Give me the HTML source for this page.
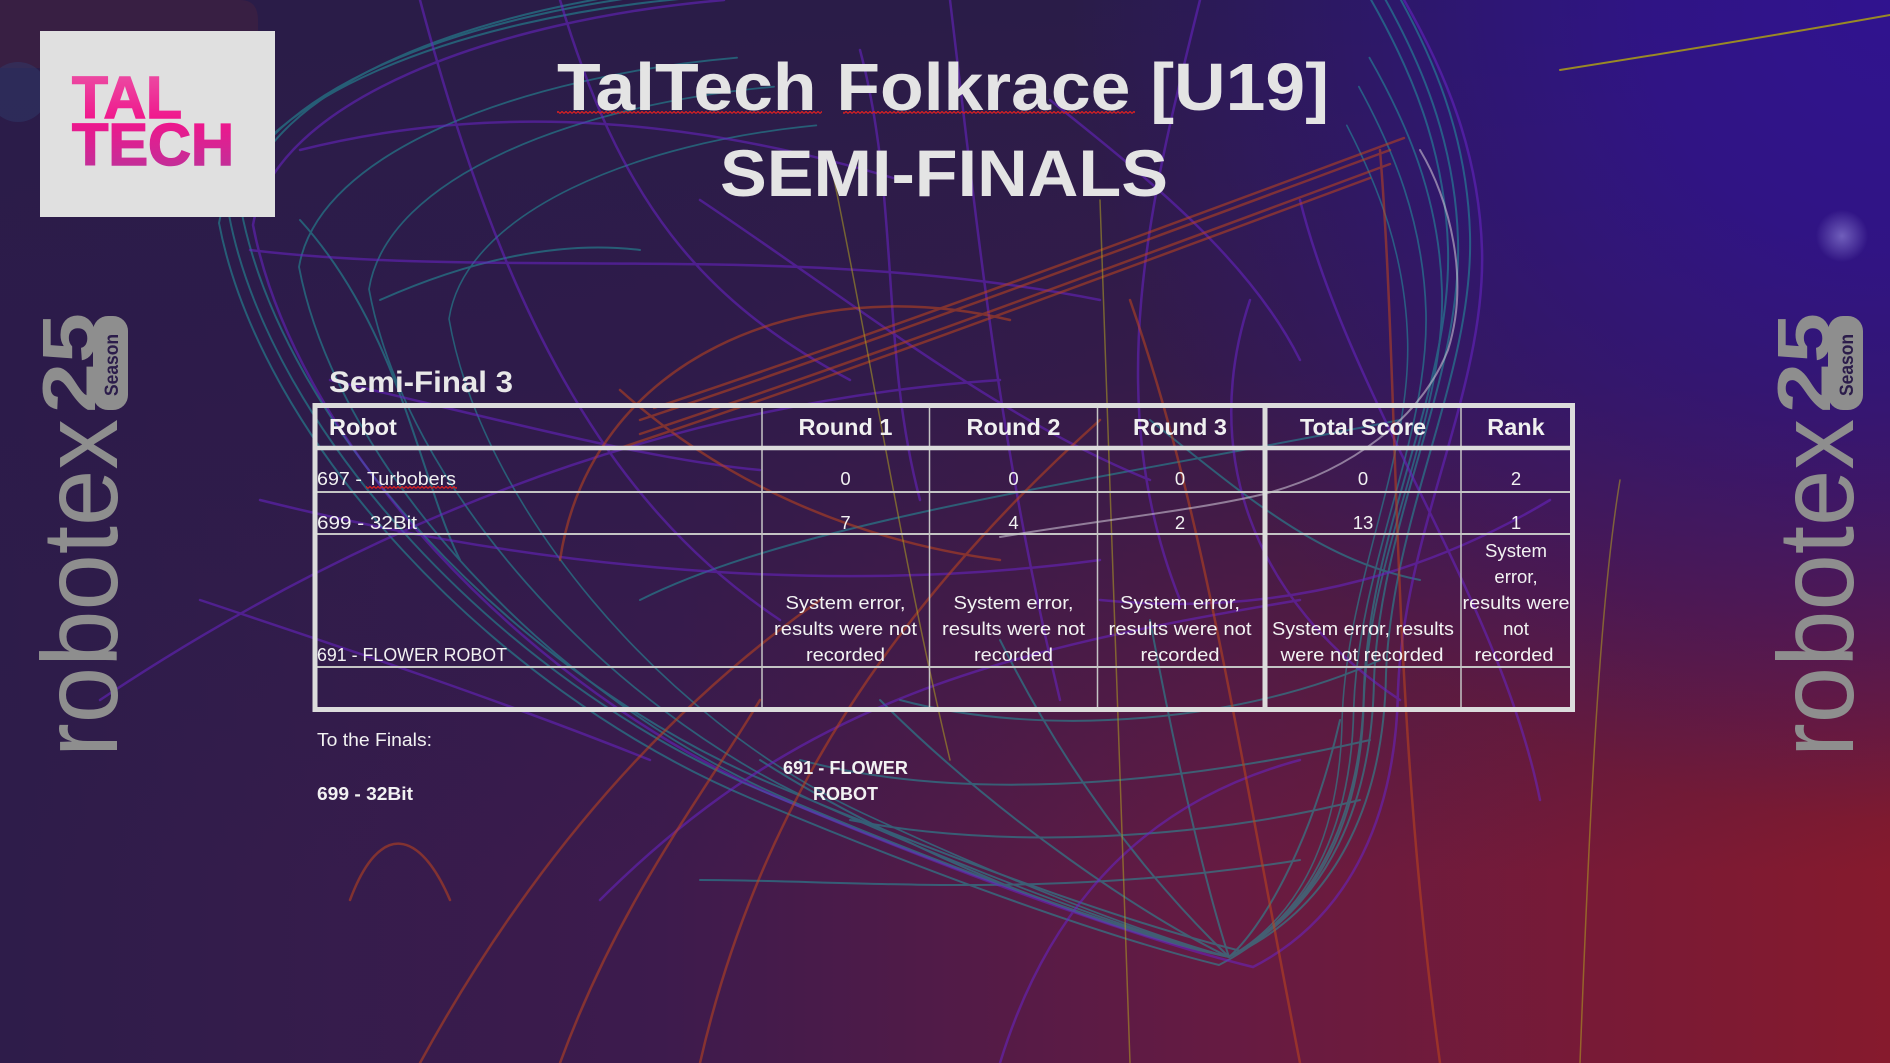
<!DOCTYPE html>
<html><head><meta charset="utf-8"><style>
html,body{margin:0;padding:0;width:1890px;height:1063px;overflow:hidden;background:#2c1c48}
svg{display:block}
text{font-family:"Liberation Sans",Arial,sans-serif}
</style></head><body>
<svg width="1890" height="1063" viewBox="0 0 1890 1063" xmlns="http://www.w3.org/2000/svg">
<defs>
<linearGradient id="bgx" x1="0" y1="0" x2="1" y2="0">
 <stop offset="0" stop-color="#2e1c4a"/>
 <stop offset="0.35" stop-color="#3d1b4d"/>
 <stop offset="0.65" stop-color="#661b42"/>
 <stop offset="1" stop-color="#861a2d"/>
</linearGradient>
<linearGradient id="bgy" x1="0" y1="0" x2="0" y2="1">
 <stop offset="0" stop-color="#2a1c48" stop-opacity="1"/>
 <stop offset="0.35" stop-color="#2c1b4a" stop-opacity="0.85"/>
 <stop offset="0.82" stop-color="#2c1b4a" stop-opacity="0"/>
</linearGradient>
<radialGradient id="blue" cx="1890" cy="0" r="820" gradientUnits="userSpaceOnUse">
 <stop offset="0" stop-color="#30138f" stop-opacity="1"/>
 <stop offset="0.3" stop-color="#30138f" stop-opacity="0.85"/>
 <stop offset="1" stop-color="#30138f" stop-opacity="0"/>
</radialGradient>
<radialGradient id="glow" cx="0.5" cy="0.5" r="0.5">
 <stop offset="0" stop-color="#9a90e0" stop-opacity="0.6"/>
 <stop offset="1" stop-color="#9a90e0" stop-opacity="0"/>
</radialGradient>
<linearGradient id="pk" x1="0" y1="75" x2="0" y2="166" gradientUnits="userSpaceOnUse">
 <stop offset="0" stop-color="#ec4aa2"/>
 <stop offset="0.5" stop-color="#f0168c"/>
 <stop offset="1" stop-color="#c42e98"/>
</linearGradient>
<pattern id="sq" width="4" height="3" patternUnits="userSpaceOnUse">
 <path d="M0 2.5 L2 0.5 L4 2.5" stroke="#e02020" stroke-width="1.2" fill="none"/>
</pattern>
</defs>

<!-- background -->
<rect x="0" y="0" width="1890" height="1063" fill="url(#bgx)"/>
<rect x="0" y="0" width="1890" height="1063" fill="url(#bgy)"/>
<rect x="0" y="0" width="1890" height="1063" fill="url(#blue)"/>
<path d="M0 0 H240 Q258 0 258 20 V60 Q258 68 240 68 H0 Z" fill="#3c2042" opacity="0.8"/>
<circle cx="18" cy="92" r="30" fill="#2f3a6a" opacity="0.5"/>
<circle cx="1842" cy="236" r="26" fill="url(#glow)"/>

<!-- face lines -->
<g fill="none" stroke-linecap="round">
 <g stroke="#22a0a4" stroke-width="2" opacity="0.5">
  <path d="M 700 -10 C 470 10 250 90 229 215 C 270 430 500 680 760 790 C 950 870 1120 930 1229 957 C 1330 905 1372 800 1374 680 C 1380 520 1462 380 1458 240 C 1455 140 1420 60 1380 -10"/>
  <path transform="translate(12,-6)" d="M 700 -10 C 470 10 250 90 229 215 C 270 430 500 680 760 790 C 950 870 1120 930 1229 957 C 1330 905 1372 800 1374 680 C 1380 520 1462 380 1458 240 C 1455 140 1420 60 1380 -10"/>
  <path transform="translate(-10,8)" d="M 700 -10 C 470 10 250 90 229 215 C 270 430 500 680 760 790 C 950 870 1120 930 1229 957 C 1330 905 1372 800 1374 680 C 1380 520 1462 380 1458 240 C 1455 140 1420 60 1380 -10"/>
  <path transform="translate(1229,957) scale(0.93) translate(-1229,-957)" d="M 700 -10 C 470 10 250 90 229 215 C 270 430 500 680 760 790 C 950 870 1120 930 1229 957 C 1330 905 1372 800 1374 680 C 1380 520 1462 380 1458 240 C 1455 140 1420 60 1380 -10"/>
  <path transform="translate(1229,957) scale(0.86,0.9) translate(-1229,-957)" d="M 700 -10 C 470 10 250 90 229 215 C 270 430 500 680 760 790 C 950 870 1120 930 1229 957 C 1330 905 1372 800 1374 680 C 1380 520 1462 380 1458 240 C 1455 140 1420 60 1380 -10"/>
  <path transform="translate(1229,957) scale(0.78,0.86) translate(-1229,-957)" d="M 700 -10 C 470 10 250 90 229 215 C 270 430 500 680 760 790 C 950 870 1120 930 1229 957 C 1330 905 1372 800 1374 680 C 1380 520 1462 380 1458 240 C 1455 140 1420 60 1380 -10"/>
  <path d="M 760 760 C 900 850 1100 930 1229 957"/>
  <path d="M 880 700 C 1000 820 1150 920 1229 957"/>
  <path d="M 1000 640 C 1080 800 1170 900 1229 957"/>
  <path d="M 1150 620 C 1180 780 1210 900 1229 957"/>
  <path d="M 1340 720 C 1310 850 1260 930 1229 957"/>
  <path d="M 800 760 C 950 800 1150 790 1370 740"/>
  <path d="M 850 820 C 1000 850 1200 840 1360 800"/>
  <path d="M 900 700 C 1050 740 1250 720 1380 660"/>
  <path d="M 640 600 C 800 520 1100 480 1400 420"/>
  <path d="M 700 880 C 850 880 1050 900 1300 860"/>
  <path d="M 300 220 C 400 330 420 480 460 560"/>
  <path d="M 380 300 C 470 260 560 240 640 250"/>
  <path d="M 1150 420 C 1250 500 1320 560 1420 580"/>
 </g>
 <g stroke="#6a24c8" stroke-width="2.5" opacity="0.55">
  <path transform="translate(24,10)" d="M 700 -10 C 470 10 250 90 229 215 C 270 430 500 680 760 790 C 950 870 1120 930 1229 957 C 1330 905 1372 800 1374 680 C 1380 520 1462 380 1458 240 C 1455 140 1420 60 1380 -10"/>
  <path d="M 250 250 C 500 280 800 240 1100 300"/>
  <path d="M 100 700 C 400 500 700 400 1000 380"/>
  <path d="M 420 0 C 500 300 600 500 780 620"/>
  <path d="M 950 0 C 980 250 1000 450 1060 700"/>
  <path d="M 1200 0 C 1150 200 1100 400 1180 600"/>
  <path d="M 260 500 C 500 560 800 600 1100 560"/>
  <path d="M 1300 200 C 1350 400 1500 600 1540 800"/>
  <path d="M 600 900 C 800 700 1000 650 1300 600"/>
  <path d="M 300 150 C 500 100 700 120 900 180"/>
  <path d="M 1000 1063 C 1050 900 1150 800 1300 760"/>
  <path d="M 1100 600 C 1300 620 1450 560 1550 500"/>
  <path d="M 560 0 C 620 200 700 300 850 380"/>
  <path d="M 700 200 C 850 300 1000 420 1150 480"/>
  <path d="M 330 380 C 500 420 650 460 760 470"/>
  <path d="M 1050 100 C 1150 180 1250 260 1300 360"/>
  <path d="M 200 600 C 350 650 500 700 650 760"/>
  <path d="M 1250 300 C 1200 450 1250 600 1400 700"/>
  <path d="M 860 50 C 900 200 880 350 920 500"/>
 </g>
 <g stroke="#c0451c" stroke-width="2.5" opacity="0.55">
  <path d="M 640 420 C 880 340 1120 250 1390 150"/>
  <path transform="translate(0,14)" d="M 640 420 C 880 340 1120 250 1390 150"/>
  <path transform="translate(14,-12)" d="M 640 420 C 880 340 1120 250 1390 150"/>
  <path transform="translate(-20,28)" d="M 640 420 C 880 340 1120 250 1390 150"/>
  <path d="M 560 560 C 590 360 800 270 1010 320"/>
  <path d="M 700 1063 C 760 800 900 600 1100 420"/>
  <path d="M 420 1063 C 520 880 650 720 820 600"/>
  <path d="M 350 900 C 380 820 420 830 450 900"/>
  <path d="M 1130 300 C 1200 500 1230 700 1300 1063"/>
  <path d="M 1380 150 C 1400 400 1390 700 1440 1063"/>
  <path d="M 560 1063 C 620 900 700 800 760 700"/>
  <path d="M 620 390 C 720 480 850 540 1000 560"/>
 </g>
 <g stroke="#b0a020" stroke-width="1.5" opacity="0.55">
  <path d="M 830 160 C 870 350 900 550 950 760"/>
  <path d="M 1580 1063 C 1590 800 1600 600 1620 480"/>
  <path d="M 1100 200 C 1110 500 1120 800 1130 1063"/>
 </g>
 <path d="M 1560 70 Q 1750 40 1890 15" stroke="#9a8a25" stroke-width="2"/>
 <path d="M 1000 537 C 1100 520 1200 510 1268 493 C 1350 470 1420 420 1448 350 C 1470 280 1450 200 1420 150" stroke="#c8c0d0" stroke-width="2" opacity="0.6"/>
</g>

<!-- TalTech logo -->
<rect x="40" y="31" width="235" height="186" fill="#e0e0e0"/>
<text x="72" y="118" font-size="59" font-weight="bold" fill="url(#pk)" stroke="url(#pk)" stroke-width="1.5" textLength="110" lengthAdjust="spacingAndGlyphs">TAL</text>
<text x="72" y="165" font-size="59" font-weight="bold" fill="url(#pk)" stroke="url(#pk)" stroke-width="1.5" textLength="162" lengthAdjust="spacingAndGlyphs">TECH</text>

<!-- Title -->
<text x="557" y="110" font-size="67" font-weight="bold" fill="#e4e4e4" textLength="772" lengthAdjust="spacingAndGlyphs">TalTech Folkrace [U19]</text>
<rect x="557" y="111" width="265" height="3" fill="url(#sq)"/>
<rect x="843" y="111" width="292" height="3" fill="url(#sq)"/>
<text x="720" y="196" font-size="66" font-weight="bold" fill="#e4e4e4" textLength="448" lengthAdjust="spacingAndGlyphs">SEMI-FINALS</text>

<!-- robotex logos -->
<g fill="#8e8e8e">
 <text transform="translate(117,757) rotate(-90)" font-size="108" textLength="338" lengthAdjust="spacingAndGlyphs">robotex</text>
 <text transform="translate(95,413) rotate(-90)" font-size="75" font-weight="bold" textLength="100" lengthAdjust="spacingAndGlyphs">25</text>
 <rect x="93" y="316" width="35" height="94" rx="15"/>
 <text transform="translate(1853,757) rotate(-90)" font-size="108" textLength="338" lengthAdjust="spacingAndGlyphs">robotex</text>
 <text transform="translate(1830,413) rotate(-90)" font-size="75" font-weight="bold" textLength="100" lengthAdjust="spacingAndGlyphs">25</text>
 <rect x="1828" y="316" width="35" height="94" rx="15"/>
</g>
<text transform="translate(118,396) rotate(-90)" font-size="19" font-weight="bold" fill="#2b1c4a" textLength="62" lengthAdjust="spacingAndGlyphs">Season</text>
<text transform="translate(1853,396) rotate(-90)" font-size="19" font-weight="bold" fill="#2b1c4a" textLength="62" lengthAdjust="spacingAndGlyphs">Season</text>

<!-- Semi-Final 3 -->
<text x="329" y="392" font-size="30" font-weight="bold" fill="#e8e8e8" textLength="184" lengthAdjust="spacingAndGlyphs">Semi-Final 3</text>

<!-- table lines -->
<g stroke="#c4c4c4" stroke-width="2" fill="none">
 <line x1="315" y1="492" x2="1572" y2="492"/>
 <line x1="315" y1="534" x2="1572" y2="534"/>
 <line x1="315" y1="667" x2="1572" y2="667"/>
 <line x1="762" y1="405" x2="762" y2="710" stroke-width="1.5"/>
 <line x1="929.5" y1="405" x2="929.5" y2="710" stroke-width="1.5"/>
 <line x1="1097.5" y1="405" x2="1097.5" y2="710" stroke-width="1.5"/>
 <line x1="1461" y1="405" x2="1461" y2="710" stroke-width="1.5"/>
</g>
<g stroke="#dcdcdc" fill="none">
 <line x1="315" y1="448" x2="1572" y2="448" stroke-width="4.5"/>
 <line x1="1265" y1="405" x2="1265" y2="710" stroke-width="5"/>
 <rect x="315" y="405.5" width="1257.5" height="304" stroke-width="5"/>
</g>

<!-- header -->
<g font-size="23.5" font-weight="bold" fill="#f0f0f0">
 <text x="329" y="435">Robot</text>
 <text x="845.5" y="435" text-anchor="middle">Round 1</text>
 <text x="1013.5" y="435" text-anchor="middle">Round 2</text>
 <text x="1180" y="435" text-anchor="middle">Round 3</text>
 <text x="1363" y="435" text-anchor="middle">Total Score</text>
 <text x="1516" y="435" text-anchor="middle">Rank</text>
</g>

<!-- body -->
<g font-size="18.5" fill="#f2f2f2">
 <text x="317" y="485" textLength="139" lengthAdjust="spacingAndGlyphs">697 - Turbobers</text>
 <text x="317" y="529" textLength="100" lengthAdjust="spacingAndGlyphs">699 - 32Bit</text>
 <text x="317" y="661" textLength="190" lengthAdjust="spacingAndGlyphs">691 - FLOWER ROBOT</text>

 <text x="845.5" y="485" text-anchor="middle">0</text>
 <text x="1013.5" y="485" text-anchor="middle">0</text>
 <text x="1180" y="485" text-anchor="middle">0</text>
 <text x="1363" y="485" text-anchor="middle">0</text>
 <text x="1516" y="485" text-anchor="middle">2</text>

 <text x="845.5" y="529" text-anchor="middle">7</text>
 <text x="1013.5" y="529" text-anchor="middle">4</text>
 <text x="1180" y="529" text-anchor="middle">2</text>
 <text x="1363" y="529" text-anchor="middle">13</text>
 <text x="1516" y="529" text-anchor="middle">1</text>

 <text x="845.5" y="609" text-anchor="middle" textLength="120" lengthAdjust="spacingAndGlyphs">System error,</text>
 <text x="845.5" y="635" text-anchor="middle" textLength="143" lengthAdjust="spacingAndGlyphs">results were not</text>
 <text x="845.5" y="661" text-anchor="middle" textLength="79" lengthAdjust="spacingAndGlyphs">recorded</text>

 <text x="1013.5" y="609" text-anchor="middle" textLength="120" lengthAdjust="spacingAndGlyphs">System error,</text>
 <text x="1013.5" y="635" text-anchor="middle" textLength="143" lengthAdjust="spacingAndGlyphs">results were not</text>
 <text x="1013.5" y="661" text-anchor="middle" textLength="79" lengthAdjust="spacingAndGlyphs">recorded</text>

 <text x="1180" y="609" text-anchor="middle" textLength="120" lengthAdjust="spacingAndGlyphs">System error,</text>
 <text x="1180" y="635" text-anchor="middle" textLength="143" lengthAdjust="spacingAndGlyphs">results were not</text>
 <text x="1180" y="661" text-anchor="middle" textLength="79" lengthAdjust="spacingAndGlyphs">recorded</text>

 <text x="1363" y="635" text-anchor="middle" textLength="182" lengthAdjust="spacingAndGlyphs">System error, results</text>
 <text x="1362" y="661" text-anchor="middle" textLength="163" lengthAdjust="spacingAndGlyphs">were not recorded</text>

 <text x="1516" y="557" text-anchor="middle" textLength="62" lengthAdjust="spacingAndGlyphs">System</text>
 <text x="1516" y="583" text-anchor="middle">error,</text>
 <text x="1516" y="609" text-anchor="middle" textLength="107" lengthAdjust="spacingAndGlyphs">results were</text>
 <text x="1516" y="635" text-anchor="middle">not</text>
 <text x="1514" y="661" text-anchor="middle" textLength="79" lengthAdjust="spacingAndGlyphs">recorded</text>

 <text x="317" y="746" textLength="115" lengthAdjust="spacingAndGlyphs">To the Finals:</text>
</g>
<rect x="366" y="486" width="91" height="3" fill="url(#sq)"/>
<g font-size="18.5" font-weight="bold" fill="#f2f2f2">
 <text x="317" y="800" textLength="96" lengthAdjust="spacingAndGlyphs">699 - 32Bit</text>
 <text x="845.5" y="774" text-anchor="middle" textLength="125" lengthAdjust="spacingAndGlyphs">691 - FLOWER</text>
 <text x="845.5" y="800" text-anchor="middle" textLength="65" lengthAdjust="spacingAndGlyphs">ROBOT</text>
</g>
</svg>
</body></html>
